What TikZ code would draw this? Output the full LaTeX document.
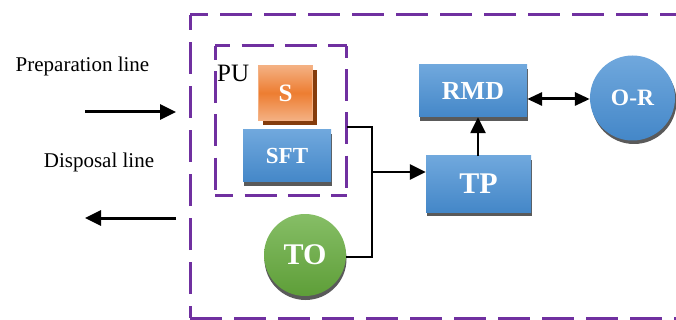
\documentclass[tikz,border=0pt]{standalone}
\usepackage{fontspec}
\setmainfont{Liberation Serif}
\usetikzlibrary{arrows.meta,shadows}
\definecolor{dashpurple}{HTML}{7030A0}
\definecolor{boxtop}{HTML}{70A8DD}
\definecolor{boxbot}{HTML}{4487C8}
\definecolor{boxshade}{HTML}{5A5A5A}
\definecolor{orangemid}{HTML}{ED7D31}
\definecolor{orangelight}{HTML}{F4B183}
\definecolor{orangeshade}{HTML}{843C0C}
\definecolor{greentop}{HTML}{86BE66}
\definecolor{greenbot}{HTML}{5E9E38}
\newcommand{\fsz}[1]{\fontsize{#1}{#1}\selectfont}
\tikzset{
  unitframe/.style={draw=dashpurple, line width=3pt, dash pattern=on 32pt off 12pt},
  puframe/.style={draw=dashpurple, line width=3pt, dash pattern=on 32pt off 11.3pt},
  bluebox/.style={rectangle, inner sep=0pt, top color=boxtop, bottom color=boxbot,
    text=white, font=\bfseries,
    general shadow={fill=boxshade, shadow xshift=1pt, shadow yshift=-4pt}},
  orangebox/.style={rectangle, inner sep=0pt, top color=orangelight, bottom color=orangelight,
    middle color=orangemid, draw=orangelight, line width=1.5pt,
    text=white, font=\bfseries,
    general shadow={fill=orangeshade, shadow xshift=4pt, shadow yshift=-5pt}},
  bluedisc/.style={circle, inner sep=0pt, top color=boxtop, bottom color=boxbot,
    text=white, font=\bfseries,
    general shadow={fill=boxshade, shadow xshift=1.5pt, shadow yshift=-3.5pt}},
  greendisc/.style={circle, inner sep=0pt, top color=greentop, bottom color=greenbot,
    text=white, font=\bfseries,
    general shadow={fill=boxshade, shadow xshift=0.5pt, shadow yshift=-4pt}},
  wire/.style={draw=black, line width=2pt},
  flow/.style={draw=black, line width=2.5pt, -{Triangle[length=16pt,width=15pt]}},
  bigflow/.style={draw=black, line width=3pt, -{Triangle[length=16pt,width=15pt]}},
  twoway/.style={draw=black, line width=3pt, {Triangle[length=15pt,width=13pt]}-{Triangle[length=15pt,width=13pt]}},
  caption/.style={inner sep=0pt, font=\fsz{21}}
}
\begin{document}
\begin{tikzpicture}[x=1pt,y=-1pt]
\useasboundingbox (0,0) rectangle (676,320);

% outer unit boundary, each side with its own dash phase
\begin{scope}
\clip (0,0) rectangle (676,320);
\coordinate (oTL) at (190,15);
\coordinate (oBL) at (190,318);
\coordinate (oTR) at (690,15);
\coordinate (oBR) at (690,318);
\draw[unitframe, dash phase=14pt] (oTL) -- (oTR);
\draw[unitframe, dash phase=20pt] (oBL) -- (oTL);
\draw[unitframe] (oBL) -- (oBR);
\end{scope}

% processing unit boundary
\node[rectangle, minimum width=131pt, minimum height=149pt, inner sep=0pt] (pu) at (281,120.5) {};
\draw[puframe, dash phase=17pt] (pu.north west) -- (pu.north east);
\draw[puframe, dash phase=14pt] (pu.south west) -- (pu.south east);
\draw[puframe, dash phase=18pt] (pu.north west) -- (pu.south west);
\draw[puframe, dash phase=20pt] (pu.north east) -- (pu.south east);
\node[anchor=north west, inner sep=0pt, font=\fsz{25}] (pulabel) at (217,65) {PU};

% side lines
\node[caption] (prep) at (82.5,66) {Preparation line};
\node[caption] (disp) at (99,162) {Disposal line};
\coordinate (prepA) at (85,112);
\coordinate (prepB) at (176,112);
\coordinate (dispA) at (176,218);
\coordinate (dispB) at (85,218);
\draw[bigflow] (prepA) -- (prepB);
\draw[bigflow] (dispA) -- (dispB);

% components
\node[orangebox, minimum width=54pt, minimum height=55pt, font=\bfseries\fsz{25}] (s) at (285.5,93) {S};
\node[bluebox, minimum width=88pt, minimum height=52pt, font=\bfseries\fsz{23}] (sft) at (287,156) {SFT};
\node[bluebox, minimum width=108pt, minimum height=52pt, font=\bfseries\fsz{26}] (rmd) at (473,91) {RMD};
\node[bluebox, minimum width=105pt, minimum height=56pt, font=\bfseries\fsz{30}] (tp) at (478.5,184) {TP};
\node[bluedisc, minimum size=85pt, font=\bfseries\fsz{23.5}] (or) at (632.5,98) {O-R};
\node[greendisc, minimum size=82pt, font=\bfseries\fsz{30}] (to) at (305,255) {TO};

% connections
\coordinate (jtop) at (372,127);
\coordinate (jmid) at (372,172);
\coordinate (jbot) at (372,257);
\draw[wire] (pu.east |- jtop) -- (jtop) -- (jbot) -- (to.east |- jbot);
\draw[flow] (jmid) -- (tp.west |- jmid);
\draw[flow] (tp.north -| 478,0) -- (rmd.south -| 478,0);
\draw[twoway] (rmd.east |- 0,99) -- (or.west |- 0,99);
\end{tikzpicture}
\end{document}
